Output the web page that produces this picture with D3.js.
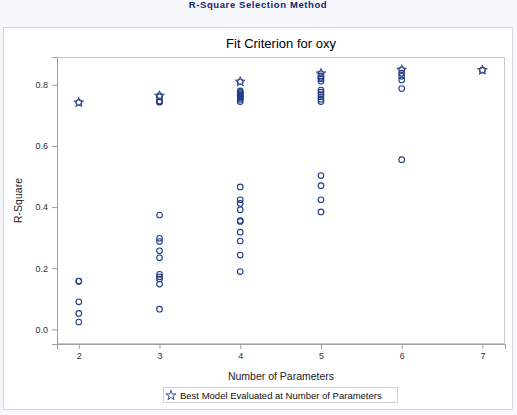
<!DOCTYPE html>
<html>
<head>
<meta charset="utf-8">
<script src="https://cdn.jsdelivr.net/npm/d3@7"></script>
<style>
  html, body { margin: 0; padding: 0; background: #f7f9fc; }
  svg { display: block; }
  text { font-family: "Liberation Sans", Arial, sans-serif; }
</style>
</head>
<body>
<div id="chart"></div>
<script>
// ---- data ----
const pageTitle = "R-Square Selection Method";
const chartTitle = "Fit Criterion for oxy";
const xLabel = "Number of Parameters";
const yLabel = "R-Square";
const legendLabel = "Best Model Evaluated at Number of Parameters";

const nParams = [2, 3, 4, 5, 6, 7];
const rsq2 = [0.742, 0.158, 0.157, 0.090, 0.052, 0.024];
const rsq3 = [0.764, 0.761, 0.746, 0.745, 0.743, 0.374, 0.298, 0.287, 0.257, 0.234, 0.180, 0.172, 0.165, 0.148, 0.066];
const rsq4 = [0.810, 0.780, 0.775, 0.771, 0.767, 0.764, 0.760, 0.757, 0.752, 0.745, 0.466, 0.424, 0.412, 0.391, 0.356, 0.353, 0.318, 0.289, 0.243, 0.189];
const rsq5 = [0.837, 0.829, 0.824, 0.819, 0.812, 0.783, 0.776, 0.768, 0.761, 0.753, 0.745, 0.503, 0.470, 0.424, 0.384];
const rsq6 = [0.849, 0.838, 0.828, 0.816, 0.788, 0.555];
const rsq7 = [0.848];
const bestModel = [0.742, 0.764, 0.810, 0.837, 0.849, 0.848];
const yTicks = [0.0, 0.2, 0.4, 0.6, 0.8];
const xTicks = [2, 3, 4, 5, 6, 7];

const models = [rsq2, rsq3, rsq4, rsq5, rsq6, rsq7];

// ---- layout ----
const W = 517, H = 415;
const plot = { left: 57, right: 505, top: 57, bottom: 344 };
const markColor = "#1f3d86";

const svg = d3.select("#chart").append("svg")
  .attr("width", W).attr("height", H);

svg.append("rect").attr("x", 0).attr("y", 0).attr("width", W).attr("height", H).attr("fill", "#f5f7fb");
svg.append("text").attr("x", 258).attr("y", 8)
  .attr("text-anchor", "middle")
  .attr("font-size", 9.5).attr("font-weight", "bold")
  .attr("letter-spacing", 0.6)
  .attr("fill", "#14266a")
  .text(pageTitle);

svg.append("rect").attr("x", 3.5).attr("y", 27.5).attr("width", 509).attr("height", 382)
  .attr("fill", "#ffffff").attr("stroke", "#d4d8e0");

svg.append("text").attr("x", (plot.left + plot.right) / 2).attr("y", 48)
  .attr("text-anchor", "middle").attr("font-size", 13).attr("fill", "#000")
  .text(chartTitle);

const x = d3.scaleLinear().domain([1.73, 7.28]).range([plot.left, plot.right]);
const y = d3.scaleLinear().domain([-0.048, 0.891]).range([plot.bottom, plot.top]);

svg.append("rect").attr("x", plot.left + 0.5).attr("y", plot.top + 0.5)
  .attr("width", plot.right - plot.left - 1).attr("height", plot.bottom - plot.top - 1)
  .attr("fill", "none").attr("stroke", "#c8c8c8");

const xAxis = svg.append("g").attr("transform", `translate(0,${plot.bottom})`)
  .call(d3.axisBottom(x).tickValues(xTicks).tickFormat(d3.format("d")).tickSizeOuter(0).tickSize(5).tickPadding(4));
const yAxis = svg.append("g").attr("transform", `translate(${plot.left},0)`)
  .call(d3.axisLeft(y).tickValues(yTicks).tickFormat(d3.format(".1f")).tickSizeOuter(0).tickSize(5).tickPadding(4));
[xAxis, yAxis].forEach(g => {
  g.select(".domain").attr("stroke", "#a0a0a0");
  g.selectAll(".tick line").attr("stroke", "#a0a0a0");
  g.selectAll(".tick text").attr("font-size", 9).attr("fill", "#333")
    .attr("font-family", "'Liberation Sans', Arial, sans-serif");
});

svg.append("text").attr("x", (plot.left + plot.right) / 2).attr("y", 380)
  .attr("text-anchor", "middle").attr("font-size", 10.5).attr("fill", "#222")
  .text(xLabel);
svg.append("text").attr("transform", `translate(22,${(plot.top + plot.bottom) / 2}) rotate(-90)`)
  .attr("text-anchor", "middle").attr("font-size", 10.5).attr("fill", "#222")
  .text(yLabel);

const pts = [];
models.forEach((arr, i) => arr.forEach(v => pts.push({ p: nParams[i], v })));
svg.append("g").selectAll("circle").data(pts).join("circle")
  .attr("cx", d => x(d.p)).attr("cy", d => y(d.v)).attr("r", 2.8)
  .attr("fill", "none").attr("stroke", markColor).attr("stroke-width", 1.1);

const star = d3.symbol().type(d3.symbolStar).size(30);
svg.append("g").selectAll("path").data(bestModel.map((v, i) => ({ p: nParams[i], v }))).join("path")
  .attr("d", star)
  .attr("transform", d => `translate(${x(d.p)},${y(d.v)})`)
  .attr("fill", "none").attr("stroke", "#3b4f8c").attr("stroke-width", 1);

const lg = svg.append("g");
lg.append("rect").attr("x", 163.5).attr("y", 387.5).attr("width", 234).attr("height", 15)
  .attr("fill", "#fff").attr("stroke", "#d0d0d0");
lg.append("path").attr("d", star).attr("transform", "translate(171,395.5)")
  .attr("fill", "none").attr("stroke", "#3b4f8c").attr("stroke-width", 1);
lg.append("text").attr("x", 180).attr("y", 399).attr("font-size", 9.5).attr("fill", "#111")
  .text(legendLabel);
</script>
</body>
</html>
